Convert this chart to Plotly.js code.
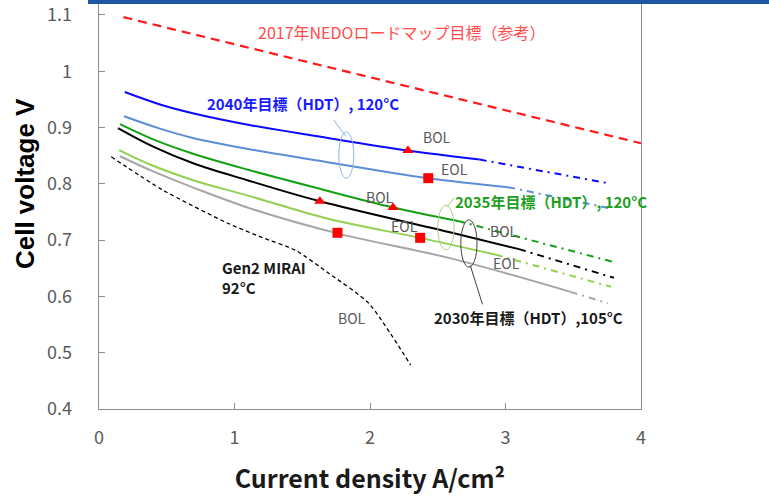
<!DOCTYPE html>
<html>
<head>
<meta charset="utf-8">
<script src="https://cdn.plot.ly/plotly-3.0.1.min.js"></script>
<style>html,body{margin:0;padding:0;background:#fff;}#chart{width:769px;height:497px;}</style>
</head>
<body>
<div id="chart"></div>
<script>
// ---- data ----
const nedoX = [0.18, 4.0];
const nedoY = [1.096, 0.872];

const bol2040X = [0.19, 0.45, 0.70, 1.10, 1.60, 2.28, 2.81];
const bol2040Y = [0.963, 0.941, 0.925, 0.905, 0.885, 0.859, 0.843];
const bol2040ExtX = [2.81, 3.76];
const bol2040ExtY = [0.843, 0.801];

const eol2040X = [0.185, 0.45, 0.70, 1.10, 1.60, 2.43, 3.02];
const eol2040Y = [0.920, 0.898, 0.881, 0.862, 0.842, 0.810, 0.794];
const eol2040ExtX = [3.02, 3.76];
const eol2040ExtY = [0.794, 0.757];

const bol2035X = [0.155, 0.40, 0.70, 1.10, 1.60, 2.17, 2.65];
const bol2035Y = [0.906, 0.879, 0.853, 0.825, 0.793, 0.758, 0.734];
const bol2035ExtX = [2.65, 3.80];
const bol2035ExtY = [0.734, 0.661];

const bol2030X = [0.14, 0.40, 0.70, 1.10, 1.63, 2.59, 3.10];
const bol2030Y = [0.899, 0.866, 0.836, 0.806, 0.769, 0.714, 0.684];
const bol2030ExtX = [3.10, 3.80];
const bol2030ExtY = [0.684, 0.633];

const eol2035X = [0.148, 0.40, 0.70, 1.10, 1.69, 2.37, 2.93];
const eol2035Y = [0.860, 0.832, 0.806, 0.779, 0.738, 0.704, 0.674];
const eol2035ExtX = [2.93, 3.78];
const eol2035ExtY = [0.674, 0.617];

const eol2030X = [0.155, 0.40, 0.71, 1.12, 1.76, 2.59, 3.48];
const eol2030Y = [0.849, 0.822, 0.792, 0.756, 0.712, 0.668, 0.608];
const eol2030ExtX = [3.48, 3.755];
const eol2030ExtY = [0.608, 0.588];

const miraiX = [0.09, 0.47, 0.95, 1.20, 1.45, 1.69, 1.99, 2.30];
const miraiY = [0.848, 0.789, 0.730, 0.705, 0.682, 0.642, 0.588, 0.478];

const bolMarkX = [2.28, 1.63, 2.17];
const bolMarkY = [0.859, 0.769, 0.758];
const eolMarkX = [2.43, 1.76, 2.37];
const eolMarkY = [0.810, 0.713, 0.704];

const xTicks = [0, 1, 2, 3, 4];
const yTicks = [0.4, 0.5, 0.6, 0.7, 0.8, 0.9, 1, 1.1];
const yTickText = ['0.4', '0.5', '0.6', '0.7', '0.8', '0.9', '1', '1.1'];

// ---- styling ----
const C = {
  blue: '#0a0aff', lblue: '#5b8ed6', green: '#14a014', black: '#000000',
  lgreen: '#92d050', grey: '#a6a6a6', red: '#ff1a1a'
};
const DD = '7px,5px,2px,5px';
const traces = [];
function solid(x, y, color) {
  traces.push({x, y, mode: 'lines', line: {color, width: 2, shape: 'spline', smoothing: 1}, hoverinfo: 'skip', showlegend: false});
}
function ext(x, y, color) {
  traces.push({x, y, mode: 'lines', line: {color, width: 2, dash: DD}, hoverinfo: 'skip', showlegend: false});
}
traces.push({x: nedoX, y: nedoY, mode: 'lines', line: {color: C.red, width: 2.2, dash: '9px,6px'}, showlegend: false});
solid(bol2040X, bol2040Y, C.blue); ext(bol2040ExtX, bol2040ExtY, C.blue);
solid(eol2040X, eol2040Y, C.lblue); ext(eol2040ExtX, eol2040ExtY, C.lblue);
solid(bol2035X, bol2035Y, C.green); ext(bol2035ExtX, bol2035ExtY, C.green);
solid(bol2030X, bol2030Y, C.black); ext(bol2030ExtX, bol2030ExtY, C.black);
solid(eol2035X, eol2035Y, C.lgreen); ext(eol2035ExtX, eol2035ExtY, C.lgreen);
solid(eol2030X, eol2030Y, C.grey); ext(eol2030ExtX, eol2030ExtY, C.grey);
traces.push({x: miraiX, y: miraiY, mode: 'lines', line: {color: '#000', width: 1.3, dash: '4px,3px', shape: 'spline', smoothing: 0.6}, showlegend: false});
traces.push({x: bolMarkX, y: bolMarkY, mode: 'markers', marker: {symbol: 'triangle-up', size: 10, color: '#ff0000'}, showlegend: false});
traces.push({x: eolMarkX, y: eolMarkY, mode: 'markers', marker: {symbol: 'square', size: 10, color: '#ff0000'}, showlegend: false});

const JP = 'Noto Sans CJK JP, Noto Sans, sans-serif';
function note(text, x, y, color, size, bold, xanchor) {
  return {text: bold ? '<b>' + text + '</b>' : text, x, y, xref: 'x', yref: 'y', showarrow: false,
    xanchor: xanchor || 'center', yanchor: 'middle', align: 'left', font: {family: JP, size, color}};
}
const annotations = [
  note('2017年NEDOロードマップ目標（参考）', 2.23, 1.070, '#ff4d4d', 16, false),
  note('2040年目標（HDT）, 120°C', 0.78, 0.942, '#1a1aff', 15, true, 'left'),
  note('2035年目標（HDT）, 120°C', 2.61, 0.768, '#1ea01e', 15, true, 'left'),
  note('2030年目標（HDT）,105°C', 2.455, 0.563, '#1a1a1a', 15, true, 'left'),
  note('Gen2 MIRAI<br>92°C', 0.89, 0.634, '#1a1a1a', 15, true, 'left'),
  note('BOL', 2.498, 0.883, '#595959', 14, false),
  note('EOL', 2.624, 0.826, '#595959', 14, false),
  note('BOL', 2.077, 0.777, '#595959', 14, false),
  note('EOL', 2.254, 0.725, '#595959', 14, false),
  note('BOL', 2.986, 0.716, '#595959', 14, false),
  note('EOL', 3.008, 0.659, '#595959', 14, false),
  note('BOL', 1.87, 0.562, '#595959', 14, false),
  {text: '<b>Cell voltage V</b>', xref: 'paper', yref: 'paper', x: -0.1365, y: 0.55, textangle: -90,
    showarrow: false, xanchor: 'center', yanchor: 'middle',
    font: {family: 'Liberation Sans, Arial, sans-serif', size: 26, color: '#000'}}
];

const shapes = [
  {type: 'rect', xref: 'paper', yref: 'paper', x0: -0.0203, x1: 1.24, y0: 0.990, y1: 1.0, fillcolor: '#1f55a5', line: {width: 0}},
  // 2040 bracket
  {type: 'circle', xref: 'x', yref: 'y', x0: 1.77, x1: 1.88, y0: 0.810, y1: 0.892, line: {color: '#8eb4e3', width: 1}},
  {type: 'line', xref: 'x', yref: 'y', x0: 1.73, y0: 0.914, x1: 1.82, y1: 0.885, line: {color: '#8eb4e3', width: 1}},
  // 2035 bracket
  {type: 'circle', xref: 'x', yref: 'y', x0: 2.50, x1: 2.62, y0: 0.683, y1: 0.762, line: {color: '#a9d18e', width: 1}},
  {type: 'line', xref: 'x', yref: 'y', x0: 2.57, y0: 0.759, x1: 2.62, y1: 0.775, line: {color: '#a9d18e', width: 1}},
  // 2030 bracket
  {type: 'circle', xref: 'x', yref: 'y', x0: 2.67, x1: 2.79, y0: 0.652, y1: 0.736, line: {color: '#404040', width: 1}},
  {type: 'line', xref: 'x', yref: 'y', x0: 2.74, y0: 0.655, x1: 2.83, y1: 0.586, line: {color: '#404040', width: 1}}
];

const layout = {
  width: 769, height: 497,
  margin: {l: 99, r: 128, t: 0, b: 88},
  paper_bgcolor: '#fff', plot_bgcolor: '#fff',
  showlegend: false,
  xaxis: {
    range: [0, 4], tickvals: xTicks, ticktext: xTicks.map(String),
    showgrid: false, zeroline: false, showline: true, linecolor: '#8c8c8c', linewidth: 1.3,
    ticks: 'inside', ticklen: 6, tickcolor: '#8c8c8c', tickwidth: 1,
    tickfont: {family: JP, size: 18, color: '#595959'}, ticklabelstandoff: 12,
    title: {text: '<b>Current density A/cm²</b>', font: {family: JP, size: 25, color: '#1a1a1a'}, standoff: 22}
  },
  yaxis: {
    range: [0.4, 1.1265], tickvals: yTicks, ticktext: yTickText,
    showgrid: false, zeroline: false, showline: true, mirror: true, linecolor: '#8c8c8c', linewidth: 1.3,
    ticks: 'inside', ticklen: 6, tickcolor: '#8c8c8c', tickwidth: 1,
    tickfont: {family: JP, size: 18, color: '#595959'}, ticklabelstandoff: 22
  },
  annotations, shapes
};
Plotly.newPlot('chart', traces, layout, {staticPlot: true, displayModeBar: false});
</script>
</body>
</html>
